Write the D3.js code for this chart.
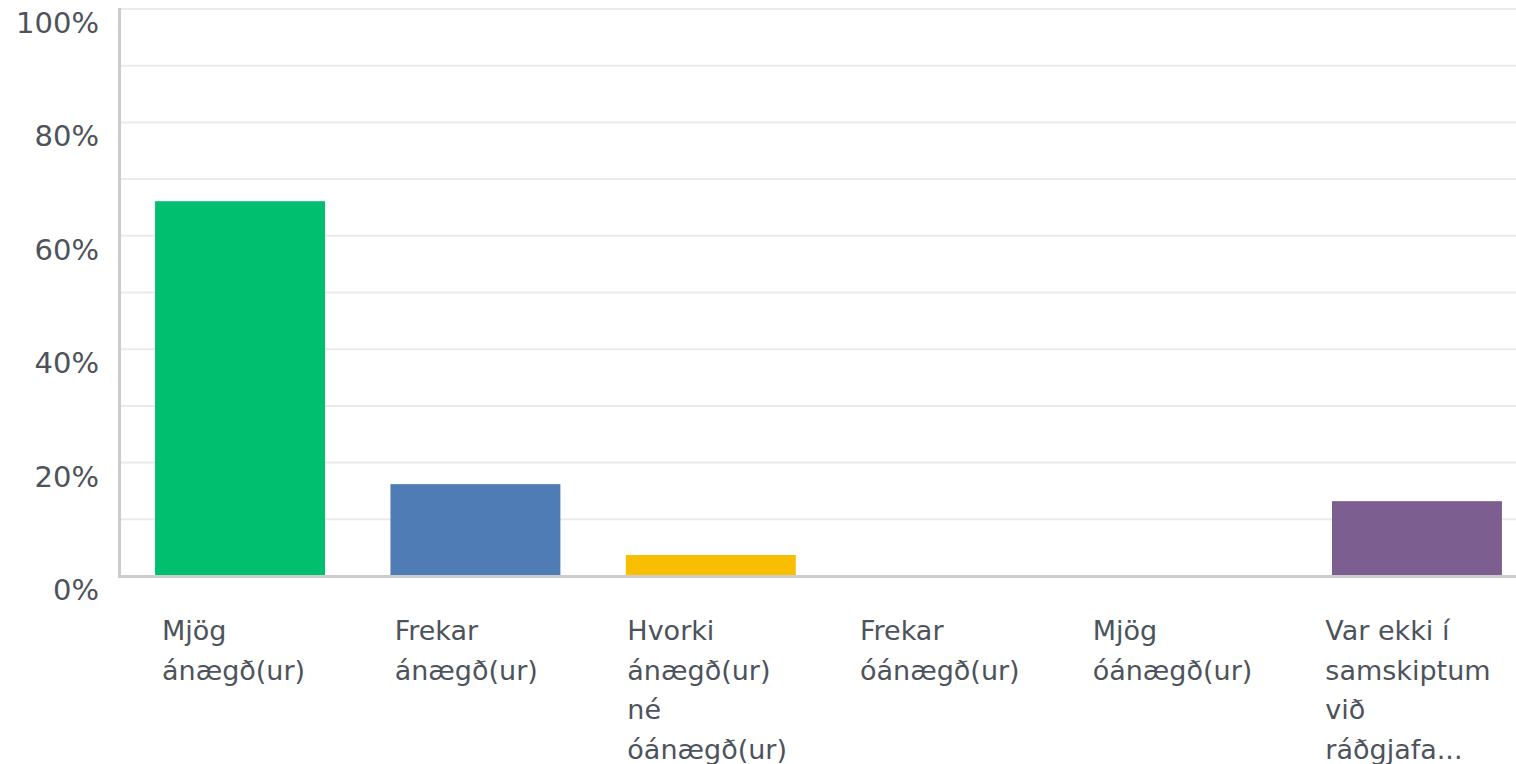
<!DOCTYPE html>
<html>
<head>
<meta charset="utf-8">
<script src="https://cdn.jsdelivr.net/npm/d3@7"></script>
<style>
  body { margin: 0; background: #fff; }
  text { font-family: "DejaVu Sans", sans-serif; fill: #4d535b; }
</style>
</head>
<body>
<div class="canvas"></div>
<script>
const categories = [
  "Mjög ánægð(ur)",
  "Frekar ánægð(ur)",
  "Hvorki ánægð(ur) né óánægð(ur)",
  "Frekar óánægð(ur)",
  "Mjög óánægð(ur)",
  "Var ekki í samskiptum við ráðgjafa..."
];
const values = [0.661, 0.162, 0.037, 0, 0, 0.132];
const colors = ["#00bf6f", "#507cb6", "#f9be00", "#6bc8cd", "#ff8b4f", "#7d5e90"];
const gridTicks = [0, 0.1, 0.2, 0.3, 0.4, 0.5, 0.6, 0.7, 0.8, 0.9, 1];
const labelTicks = [0, 0.2, 0.4, 0.6, 0.8, 1];

const totalWidth = 1516;
const totalHeight = 764;

const svg = d3.select(".canvas")
  .append("svg")
  .attr("width", totalWidth)
  .attr("height", totalHeight);

const x = d3.scaleBand()
  .domain(categories)
  .range([120, 1537])
  .paddingInner(0.278)
  .paddingOuter(0.149);

// labels follow a plain band over the plot width
const xLabel = d3.scaleBand().domain(categories).range([120, totalWidth]);

const y = d3.scaleLinear().domain([0, 1]).range([576, 9]);

// gridlines
svg.append("g")
  .selectAll("line")
  .data(gridTicks.filter(d => d > 0))
  .enter()
  .append("line")
  .attr("x1", 120)
  .attr("x2", totalWidth)
  .attr("y1", d => y(d))
  .attr("y2", d => y(d))
  .attr("stroke", "#ebebeb")
  .attr("stroke-width", 2);

// y labels sit below their gridline
svg.append("g")
  .selectAll("text")
  .data(labelTicks)
  .enter()
  .append("text")
  .attr("x", 99)
  .attr("y", d => y(d) + 24)
  .attr("text-anchor", "end")
  .style("font-size", "29px")
  .text(d3.format(".0%"));

// bars
svg.append("g")
  .selectAll("rect")
  .data(values)
  .enter()
  .append("rect")
  .attr("x", (d, i) => x(categories[i]))
  .attr("y", d => y(d))
  .attr("width", x.bandwidth())
  .attr("height", d => y(0) - y(d))
  .attr("fill", (d, i) => colors[i]);

// axis lines
svg.append("line")
  .attr("x1", 119.5).attr("x2", 119.5)
  .attr("y1", 8).attr("y2", 578)
  .attr("stroke", "#cccccc").attr("stroke-width", 3);
svg.append("line")
  .attr("x1", 118).attr("x2", totalWidth)
  .attr("y1", 576.5).attr("y2", 576.5)
  .attr("stroke", "#cccccc").attr("stroke-width", 3);

// category labels, wrapped
const labels = svg.append("g")
  .selectAll("text")
  .data(categories)
  .enter()
  .append("text")
  .attr("x", d => xLabel(d) + 42)
  .attr("y", 640)
  .style("font-size", "27px");

labels.each(function (d) {
  const text = d3.select(this);
  const lx = xLabel(d) + 42;
  const words = d.split(" ");
  let line = [];
  let lineNo = 0;
  let tspan = text.append("tspan").attr("x", lx).attr("y", 640);
  words.forEach(w => {
    line.push(w);
    tspan.text(line.join(" "));
    if (tspan.node().getComputedTextLength() > 185 && line.length > 1) {
      line.pop();
      tspan.text(line.join(" "));
      line = [w];
      lineNo++;
      tspan = text.append("tspan").attr("x", lx).attr("y", 640 + lineNo * 39.5).text(w);
    }
  });
});
</script>
</body>
</html>
